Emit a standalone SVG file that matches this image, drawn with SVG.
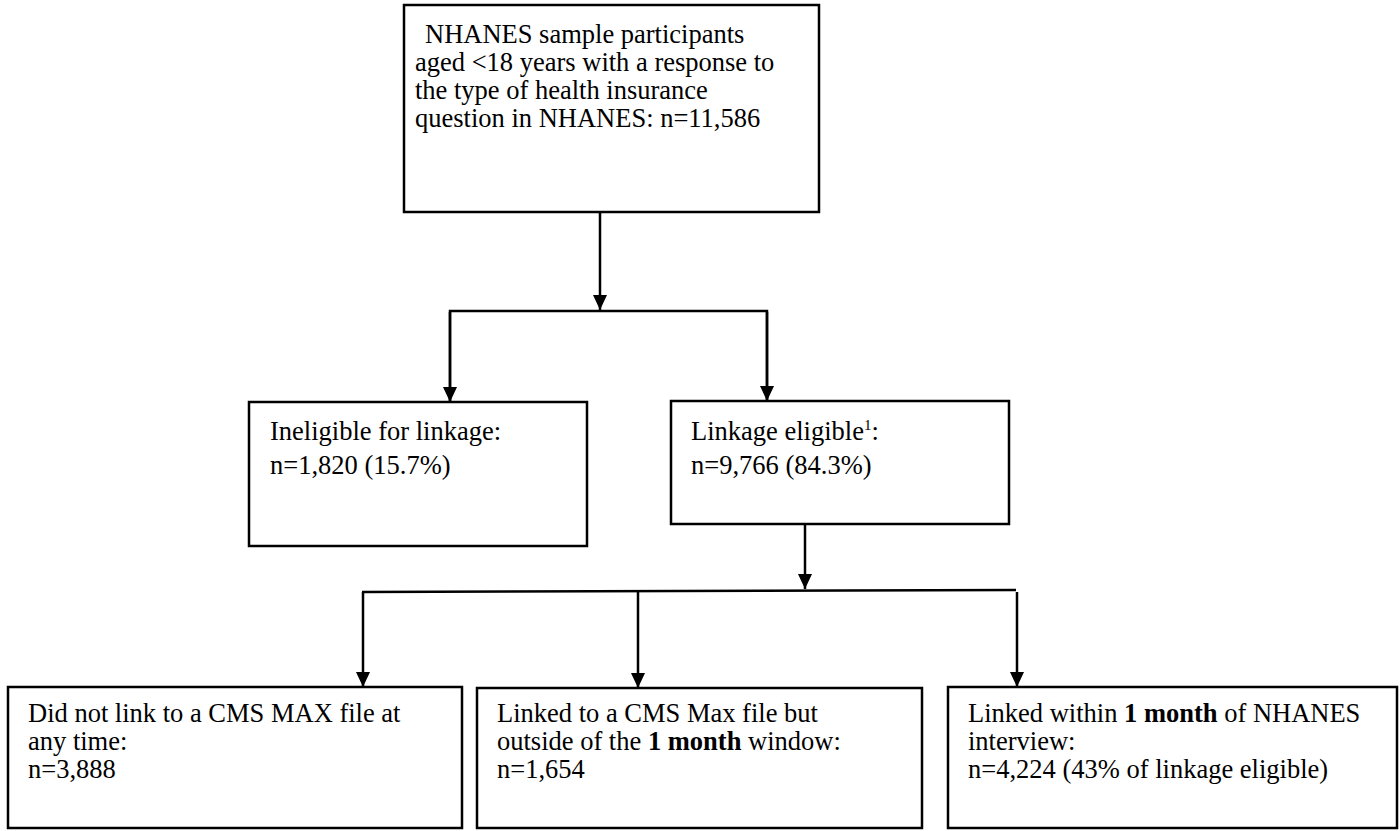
<svg xmlns="http://www.w3.org/2000/svg" width="1400" height="831" viewBox="0 0 1400 831">
<defs>
<marker id="arr" viewBox="0 0 15 14" refX="15" refY="7" markerWidth="15" markerHeight="14" markerUnits="userSpaceOnUse" orient="auto">
<path d="M0,0 L15,7 L0,14 z" fill="#000"/>
</marker>
<style>
.box{fill:#fff;stroke:#000;stroke-width:2.5}
.t{font-family:"Liberation Serif","Times New Roman",serif;font-size:26.5px;fill:#000}
.b{font-weight:bold}
.c{fill:none;stroke:#000;stroke-width:2.5}
</style>
</defs>
<rect width="1400" height="831" fill="#fff"/>
<g id="connectors">
<line class="c" x1="600" y1="213" x2="600" y2="310" marker-end="url(#arr)"/>
<polyline class="c" points="450,401 450,311 767,311 767,401" />
<line class="c" x1="450" y1="312" x2="450" y2="402" marker-end="url(#arr)"/>
<line class="c" x1="767" y1="312" x2="767" y2="401" marker-end="url(#arr)"/>
<line class="c" x1="805" y1="525" x2="805" y2="589" marker-end="url(#arr)"/>
<line class="c" x1="362" y1="592" x2="1016" y2="590"/>
<line class="c" x1="363" y1="592" x2="363" y2="687" marker-end="url(#arr)"/>
<line class="c" x1="638" y1="592" x2="638" y2="688" marker-end="url(#arr)"/>
<line class="c" x1="1017" y1="592" x2="1017" y2="687" marker-end="url(#arr)"/>
</g>
<g id="n1">
<rect class="box" x="404" y="5" width="415" height="207"/>
<text class="t" x="425" y="43">NHANES sample participants</text>
<text class="t" x="415" y="71">aged &lt;18 years with a response to</text>
<text class="t" x="415" y="99">the type of health insurance</text>
<text class="t" x="415" y="127">question in NHANES: n=11,586</text>
</g>
<g id="n2">
<rect class="box" x="249" y="402" width="338" height="144"/>
<text class="t" x="270" y="440">Ineligible for linkage:</text>
<text class="t" x="270" y="474">n=1,820 (15.7%)</text>
</g>
<g id="n3">
<rect class="box" x="671" y="401" width="338" height="123"/>
<text class="t" x="691" y="440">Linkage eligible<tspan font-size="15" dy="-10">1</tspan><tspan dy="10">:</tspan></text>
<text class="t" x="691" y="474">n=9,766 (84.3%)</text>
</g>
<g id="n4">
<rect class="box" x="8" y="687" width="454" height="141"/>
<text class="t" x="28" y="722">Did not link to a CMS MAX file at</text>
<text class="t" x="28" y="750">any time:</text>
<text class="t" x="28" y="778">n=3,888</text>
</g>
<g id="n5">
<rect class="box" x="477" y="688" width="445" height="140"/>
<text class="t" x="497" y="722">Linked to a CMS Max file but</text>
<text class="t" x="497" y="750">outside of the <tspan class="b">1 month</tspan> window:</text>
<text class="t" x="497" y="778">n=1,654</text>
</g>
<g id="n6">
<rect class="box" x="948" y="687" width="449" height="141"/>
<text class="t" x="968" y="722">Linked within <tspan class="b">1 month</tspan> of NHANES</text>
<text class="t" x="968" y="750">interview:</text>
<text class="t" x="968" y="778">n=4,224 (43% of linkage eligible)</text>
</g>
</svg>
